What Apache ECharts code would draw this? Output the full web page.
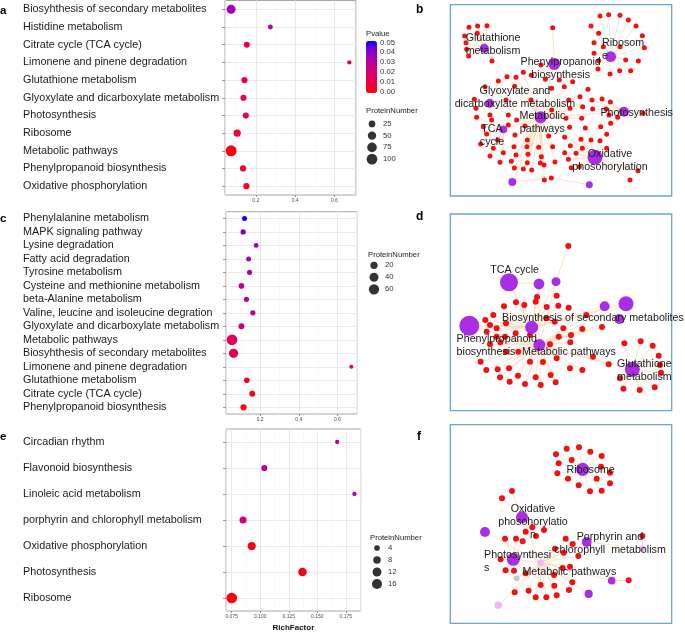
<!DOCTYPE html>
<html><head><meta charset="utf-8">
<script src="https://cdn.jsdelivr.net/npm/echarts@6/dist/echarts.min.js"></script>
<style>html,body{margin:0;padding:0;background:#fff}#c{width:685px;height:633px}</style>
</head><body><div id="c"></div>
<script>
const FONT = '"Liberation Sans", Arial, Helvetica, sans-serif';

// ---------------- Panel a ----------------
const catsA = ['Biosyhthesis of secondary metabolites','Histidine metabolism','Citrate cycle (TCA cycle)','Limonene and pinene degradation','Glutathione metabolism','Glyoxylate and dicarboxylate metabolism','Photosynthesis','Ribosome','Metabolic pathways','Phenylpropanoid biosynthesis','Oxidative phosphorylation'];
const richA = [0.074,0.274,0.154,0.676,0.142,0.137,0.149,0.105,0.074,0.135,0.152];
const numA  = [62,8,17,4,20,19,18,33,108,20,19];
const pA    = [0.035,0.029,0.012,0.012,0.011,0.011,0.010,0.009,0.002,0.006,0.004];
const legNumA = [25,50,75,100];

// ---------------- Panel c ----------------
const catsC = ['Phenylalanine metabolism','MAPK signaling pathway','Lysine degradation','Fatty acid degradation','Tyrosine metabolism','Cysteine and methionine metabolism','beta-Alanine metabolism','Valine, leucine and isoleucine degration','Glyoxylate and dicarboxylate metabolism','Metabolic pathways','Biosyhthesis of secondary metabolites','Limonene and pinene degradation','Glutathione metabolism','Citrate cycle (TCA cycle)','Phenylpropanoid biosynthesis'];
const richC = [0.119,0.112,0.179,0.140,0.145,0.103,0.129,0.162,0.103,0.054,0.062,0.672,0.131,0.159,0.114];
const numC  = [4,5,3,4,4,7,5,5,9,67,44,1,7,9,11];
const pC    = [0.049,0.041,0.036,0.032,0.031,0.027,0.026,0.024,0.022,0.014,0.012,0.011,0.006,0.004,0.001];
const legNumC = [20,40,60];

// ---------------- Panel e ----------------
const catsE = ['Circadian rhythm','Flavonoid biosynthesis','Linoleic acid metabolism','porphyrin and chlorophyll metabolism','Oxidative phosphorylation','Photosynthesis','Ribosome'];
const richE = [0.1674,0.1036,0.1825,0.0849,0.0925,0.1370,0.0750];
const numE  = [2,5,2,7,10,11,18];
const pE    = [0.029,0.027,0.029,0.021,0.003,0.002,0.001];
const legNumE = [4,8,12,16];

const pTicks = [0.00,0.01,0.02,0.03,0.04,0.05];

// ---------------- Network b (layout coordinates) ----------------
// hub: [label, x, y, weight, kind]
const hubsB = [
  ['Glutathione\nmetabolism',283,145,9,'hub'],
  ['Phenylpropanoid\nbiosynthesis',493,192,16,'hub'],
  ['Ribosom\ne',662,170,13,'hub'],
  ['Glyoxylate and\ndicarboxylate metabolism',299,310,9,'hub'],
  ['Metabolic\npathways',452,352,16,'hub'],
  ['TCA\ncycle',340,388,7,'hub'],
  ['Photosynthesis',702,335,11,'hub'],
  ['Oxidative\nphosohorylation',615,472,25,'hub'],
  ['',367,546,7,'hub'],
  ['',598,554,5.4,'hub']
];
const bGlut  = [[237,82],[263,78],[291,77],[224,108],[228,128],[230,148],[236,168],[306,183],[262,100]];
const bRibo  = [[630,48],[656,44],[690,46],[715,60],[738,78],[603,78],[626,100],[757,107],[612,128],[763,143],[612,160],[626,182],[707,180],[745,183],[624,207],[660,222],[689,212],[722,212],[690,140],[640,140]];
const bPhen  = [[488,83],[453,195],[466,238],[508,240],[424,226]];
const bPhot  = [[606,300],[636,297],[661,306],[648,327],[608,327],[657,345],[662,370],[759,340],[683,352],[650,403],[632,380]];
const bOxid  = [[539,382],[586,384],[573,418],[603,420],[630,422],[541,437],[577,445],[558,460],[524,458],[535,478],[544,503],[568,500],[744,512],[720,540],[650,445]];
const bTca   = [[260,352],[305,360],[280,380],[290,402],[323,420],[272,432],[310,445],[300,468],[340,458],[330,487],[355,375]];
const bGlyo  = [[253,298],[258,325],[300,345],[285,260],[325,243],[351,230],[348,300],[355,345]];
const bMeta  = [[378,232],[400,217],[374,259],[485,265],[523,260],[548,245],[570,290],[594,268],[423,300],[536,300],[485,330],[540,325],[578,320],[380,360],[528,355],[575,355],[405,378],[375,405],[412,420],[476,408],[524,412],[372,440],[411,440],[446,442],[488,440],[378,465],[414,463],[454,470],[364,484],[412,488],[451,489],[495,486],[373,504],[400,507],[425,510],[462,495],[463,540]];
const bBot   = [[484,534]];
const groupsB = [[0,bGlut],[2,bRibo],[1,bPhen],[6,bPhot],[7,bOxid],[5,bTca],[3,bGlyo],[4,bMeta],[8,bBot]];
const hubLinksB = [[4,0],[4,1],[4,3],[4,5],[4,6],[4,7],[4,8]];
const extraB = [[9,484,534]];

// ---------------- Network d ----------------
const hubsD = [
  ['TCA cycle',357,232,36,'hub'],
  ['',447,237,13,'hub'],
  ['',498,230,9,'hub'],
  ['',644,304,11,'hub'],
  ['',708,296,25,'hub'],
  ['',688,342,11,'hub'],
  ['Phenylpropanoid\nbiosynthesis',238,362,44,'hub'],
  ['Biosynthesis of secondary metabolites',425,367,19,'hub'],
  ['Metabolic pathways',448,420,16,'hub'],
  ['Glutathione\nmetabolism',727,493,25,'hub']
];
const dTop  = [[535,123]];
const dBio  = [[441,276],[500,272],[378,292],[403,300],[437,290],[342,304],[310,330],[470,306],[505,302],[536,308],[589,330],[286,345],[300,360],[348,355],[470,340],[494,350],[290,380],[320,370],[377,385],[420,390]];
const dMeta = [[520,370],[543,390],[577,372],[636,366],[320,395],[345,395],[480,418],[506,395],[541,412],[300,418],[331,412],[348,440],[385,440],[420,470],[459,471],[500,460],[540,490],[577,495],[609,455],[656,478],[272,470],[289,495],[323,493],[357,490],[384,512],[330,517],[359,530],[405,537],[437,517],[452,540],[482,510],[497,532]];
const dGlut = [[703,415],[752,409],[788,422],[806,452],[810,480],[813,503],[794,547],[749,555],[700,551],[690,520]];
const groupsD = [[2,dTop],[7,dBio],[8,dMeta],[9,dGlut]];
const hubLinksD = [[8,0],[8,1],[8,2],[8,3],[8,4],[8,5],[8,6],[8,7],[8,9],[7,0],[7,1],[7,2],[7,3],[7,4],[7,6],[0,1]];
const extraD = [];

// ---------------- Network f ----------------
const hubsF = [
  ['Ribosome',578,148,19,'hub'],
  ['Oxidative\nphosohorylatio\nn',396,292,16,'hub'],
  ['',285,336,11,'hub'],
  ['Porphyrin and\nchlorophyll  metabolism',590,366,11,'hub'],
  ['Photosynthesi\ns',370,418,19,'hub'],
  ['Metabolic pathways',452,428,5.4,'weak'],
  ['',757,386,4.4,'weak'],
  ['',325,556,6.4,'weak'],
  ['',380,475,3.6,'none'],
  ['',665,482,6.4,'hub'],
  ['',596,522,7.5,'hub']
];
const fRibo = [[498,103],[530,86],[567,82],[601,95],[635,108],[506,130],[545,120],[502,160],[534,176],[566,196],[600,214],[635,212],[660,190],[620,176],[660,158],[633,140]];
const fOxid = [[366,213],[336,235],[407,335],[427,322],[462,330],[438,348]];
const fPhot = [[345,356],[378,356],[398,364],[332,418],[347,451],[372,452],[407,460]];
const fMeta = [[527,356],[548,372],[495,386],[521,398],[565,408],[540,440],[492,465],[518,444],[452,495],[493,497],[547,487],[374,517],[416,512],[437,532],[469,532],[500,526],[537,510]];
const fPorp = [[757,348]];
const fRight = [[716,481]];
const groupsF = [[0,fRibo],[1,fOxid],[4,fPhot],[5,fMeta],[6,fPorp],[9,fRight]];
const hubLinksF = [[5,1],[5,2],[5,3],[5,4],[5,7],[5,8],[5,9],[5,10],[3,6]];
const extraF = [];

// ---------------- styling / layout config (not data) ----------------
const sizeA = n => 2.7 + 0.8 * Math.sqrt(n);
const sizeC = n => 3.2 + 0.916 * Math.sqrt(n);
const sizeE = n => 1.1 + 2.26 * Math.sqrt(n);
const hubSize = w => 3 * Math.sqrt(w);
const RED = '#f21010', PURPLE = '#a92de2', PINK = '#f4b6f0', GREY = '#c6c6c6';
const kindColor = {hub: PURPLE, weak: PINK, none: GREY};
const ORANGE_EDGE = '#f9d4b0', GREEN_EDGE = '#cfe6c6';
// label layout: [dx, dy, align] in px, per hub
const labB = [[8.7,-4.3,'center'],[6.3,4.7,'center'],[-8.7,-7.3,'left'],[25.3,-6,'center'],[1.7,5.7,'center'],[-11.3,6.7,'center'],[12.7,1.7,'center'],[15,3.7,'center']];
const labD = [[5.7,-12,'center'],null,null,null,null,null,[-12.7,20,'left'],[61.3,-9.7,'center'],[29.7,7,'center'],[-15.3,0.7,'left']];
const labF = [[8,0.7,'center'],[11,5,'center'],null,[23.3,1.7,'center'],[-29.3,2,'left'],[28.7,9,'center']];

function buildNet(hubs, groups, hubLinks, extra, labs, leafSize) {
  const nodes = [], links = [];
  const L = groups.reduce((s, g) => s + g[1].length, 0);
  const edgeColor = h => (hubs[h][0].indexOf('Ribosom') === 0 ? GREEN_EDGE : ORANGE_EDGE);
  groups.forEach(([h, pts]) => pts.forEach(p => {
    const i = nodes.length;
    nodes.push({name: 'n' + i, value: [p[0], p[1]], symbolSize: leafSize, itemStyle: {color: RED}});
    links.push({source: L + h, target: i, lineStyle: {color: edgeColor(h)}});
  }));
  hubs.forEach((hb, k) => {
    const node = {name: 'h' + k, value: [hb[1], hb[2]], symbolSize: hubSize(hb[3]), itemStyle: {color: kindColor[hb[4]]}};
    const lb = labs[k];
    if (hb[0] && lb) {
      node.label = {show: true, position: 'inside', offset: [lb[0], lb[1]], align: lb[2], verticalAlign: 'middle',
        formatter: hb[0], fontSize: 10.7, lineHeight: 13, color: '#1a1a1a', fontFamily: FONT};
    }
    nodes.push(node);
  });
  hubLinks.forEach(([a, b]) => links.push({source: L + a, target: L + b, lineStyle: {color: ORANGE_EDGE}}));
  extra.forEach(([h, x, y]) => {
    let best = 0, bd = Infinity;
    for (let i = 0; i < L; i++) { const v = nodes[i].value; const d = (v[0]-x)*(v[0]-x)+(v[1]-y)*(v[1]-y); if (d < bd) { bd = d; best = i; } }
    links.push({source: L + h, target: best, lineStyle: {color: ORANGE_EDGE}});
  });
  return {nodes, links};
}

const netB = buildNet(hubsB, groupsB, hubLinksB, extraB, labB, 5);
const netD = buildNet(hubsD, groupsD, hubLinksD, extraD, labD, 6);
const netF = buildNet(hubsF, groupsF, hubLinksF, extraF, labF, 6);

const SCALE_E = 40; // panel e axis runs in units of 0.025 RichFactor
const rows = (cats, rich, num, p, k) => cats.map((c, i) => [rich[i] * k, c, num[i], p[i]]);

const LABEL_X = 23;
const gridDefs = [
  {left: 225, top: 0.5, width: 131, height: 194.5},       // a
  {left: 226, top: 211.7, width: 131.3, height: 202.3},   // c
  {left: 226, top: 429, width: 134.7, height: 188},       // e
  {left: 368, top: 118, width: 8, height: 47},            // legend a
  {left: 370, top: 259.3, width: 8, height: 36},          // legend c
  {left: 373, top: 542, width: 8, height: 48},            // legend e
  {left: 450.3, top: 4.7, width: 221.4, height: 191.3},   // b
  {left: 450.3, top: 214, width: 221.4, height: 196.7},   // d
  {left: 450.3, top: 424.7, width: 221.4, height: 198.6}  // f
];
const grid = gridDefs.map((g, i) => Object.assign({}, g, i < 3 ? {show: true, borderColor: '#8f8f8f', borderWidth: 0.8, backgroundColor: '#fff'} :
  i >= 6 ? {show: true, borderColor: '#6ea3dc', borderWidth: 1.3} : {}));

const tickLbl = {fontSize: 5, color: '#4d4d4d', fontFamily: FONT, margin: 3, showMinLabel: false, showMaxLabel: false};
function mainX(gi, min, max, split, fmt, name) {
  return {type: 'value', gridIndex: gi, position: 'bottom', min, max, splitNumber: split, axisLine: {show: false},
    axisTick: {show: true, length: 2, lineStyle: {color: '#555', width: 0.6}},
    axisLabel: Object.assign({formatter: fmt}, tickLbl),
    splitLine: {show: true, lineStyle: {color: '#e4e4e4', width: 0.8}},
    name: name || '', nameLocation: 'middle', nameGap: 13,
    nameTextStyle: {fontSize: 8, fontWeight: 'bold', color: '#111', fontFamily: FONT}};
}
function minorX(gi, min, max, split) {
  return {type: 'value', gridIndex: gi, position: 'bottom', min, max, splitNumber: split, axisLine: {show: false}, axisTick: {show: false},
    axisLabel: {show: false}, splitLine: {show: true, lineStyle: {color: '#f2f2f2', width: 0.5}}};
}
function catY(gi, cats, left) {
  return {type: 'category', gridIndex: gi, data: cats, inverse: true, axisLine: {show: false},
    axisTick: {show: true, alignWithLabel: true, length: 3, lineStyle: {color: '#555', width: 0.6}},
    axisLabel: {interval: 0, align: 'left', margin: left - LABEL_X, fontSize: 10.8, color: '#1a1a1a', fontFamily: FONT},
    splitLine: {show: true, alignWithLabel: true, lineStyle: {color: '#e4e4e4', width: 0.8}}};
}
function legY(gi, vals) {
  return {type: 'category', gridIndex: gi, data: vals.map(String), inverse: true, position: 'right',
    axisLine: {show: false}, axisTick: {show: false}, splitLine: {show: false},
    axisLabel: {interval: 0, align: 'left', margin: 7, fontSize: 7.7, color: '#333', fontFamily: FONT}};
}
const hiddenX = gi => ({type: 'value', gridIndex: gi, min: 0, max: 1, show: false});
function netAxes(gi, x0, x1, y0, y1) {
  return [{type: 'value', gridIndex: gi, min: x0, max: x1, show: false},
          {type: 'value', gridIndex: gi, min: y0, max: y1, inverse: true, show: false}];
}
const nB = netAxes(6, 181, 845, 14, 588), nD = netAxes(7, 181, 845, 27, 617), nF = netAxes(8, 181, 845, 14, 610);

const xAxis = [
  minorX(0, 0.043, 0.71, 7),                                            // 0
  mainX(0, 0.043, 0.71, 3, v => String(+v.toFixed(1))),                 // 1
  minorX(1, 0.023, 0.703, 7),                                           // 2
  mainX(1, 0.023, 0.703, 3, v => String(+v.toFixed(1))),                // 3
  minorX(2, 0.070 * SCALE_E, 0.188 * SCALE_E, 10),                      // 4
  mainX(2, 0.070 * SCALE_E, 0.188 * SCALE_E, 5, v => (v / SCALE_E).toFixed(3), 'RichFactor'), // 5
  hiddenX(3), hiddenX(4), hiddenX(5),                                   // 6,7,8
  nB[0], nD[0], nF[0]                                                   // 9,10,11
];
const yAxis = [
  catY(0, catsA, 225), catY(1, catsC, 226), catY(2, catsE, 226),
  legY(3, legNumA), legY(4, legNumC), legY(5, legNumE),
  nB[1], nD[1], nF[1]
];

function bubble(xi, yi, data, sizeFn) {
  return {type: 'scatter', xAxisIndex: xi, yAxisIndex: yi, data, symbolSize: v => sizeFn(v[2]),
    itemStyle: {opacity: 1}, silent: true, z: 3};
}
function legendSeries(xi, yi, vals, sizeFn) {
  return {type: 'scatter', xAxisIndex: xi, yAxisIndex: yi, data: vals.map(v => [0.5, String(v), v]),
    symbolSize: v => sizeFn(v[2]), itemStyle: {color: '#000'}, silent: true};
}
function graphSeries(xi, yi, net) {
  return {type: 'graph', layout: 'none', coordinateSystem: 'cartesian2d', xAxisIndex: xi, yAxisIndex: yi,
    data: net.nodes, links: net.links, symbol: 'circle', silent: true, z: 2,
    lineStyle: {width: 0.7, opacity: 1, curveness: 0}, emphasis: {disabled: true}};
}

const series = [
  bubble(1, 0, rows(catsA, richA, numA, pA, 1), sizeA),
  bubble(3, 1, rows(catsC, richC, numC, pC, 1), sizeC),
  bubble(5, 2, rows(catsE, richE, numE, pE, SCALE_E), sizeE),
  legendSeries(6, 3, legNumA, sizeA),
  legendSeries(7, 4, legNumC, sizeC),
  legendSeries(8, 5, legNumE, sizeE),
  graphSeries(9, 6, netB),
  graphSeries(10, 7, netD),
  graphSeries(11, 8, netF)
];

const BAR_TOP = 41, BAR_H = 52;
const txt = (text, x, y, o) => ({type: 'text', x, y, silent: true, style: Object.assign({text, fill: '#1a1a1a', fontSize: 7.7, fontFamily: FONT, textAlign: 'left', textVerticalAlign: 'middle'}, o || {})});
const graphic = [
  txt('a', 0, 10.5, {fontSize: 11.5, fontWeight: 'bold', fill: '#000'}),
  txt('c', 0, 219, {fontSize: 11.5, fontWeight: 'bold', fill: '#000'}),
  txt('e', 0, 436.5, {fontSize: 11.5, fontWeight: 'bold', fill: '#000'}),
  txt('b', 416, 10, {fontSize: 12, fontWeight: 'bold', fill: '#000'}),
  txt('d', 416, 217, {fontSize: 12, fontWeight: 'bold', fill: '#000'}),
  txt('f', 417, 436.5, {fontSize: 12, fontWeight: 'bold', fill: '#000'}),
  txt('Pvalue', 366, 33.5),
  txt('ProteinNumber', 366, 111),
  txt('ProteinNumber', 368, 255),
  txt('ProteinNumber', 370, 537.7)
].concat(pTicks.map(p => txt(p.toFixed(2), 380, BAR_TOP + BAR_H - 1.2 - (p / 0.05) * (BAR_H - 2.6), {fill: '#333'})));

const option = {
  animation: false,
  backgroundColor: '#fff',
  grid, xAxis, yAxis, series, graphic,
  visualMap: [{
    type: 'continuous', seriesIndex: [0, 1, 2], dimension: 3, min: 0, max: 0.05,
    left: 366, top: BAR_TOP, itemWidth: 11, itemHeight: BAR_H, padding: 0,
    calculable: false, showLabel: false, text: null,
    inRange: {color: ['#FF0000','#F5002F','#E8004F','#D9006E','#C6008A','#B000A6','#9400C2','#6B00DD','#0000FF']},
    textStyle: {color: 'rgba(0,0,0,0)'}
  }]
};
const chart = echarts.init(document.getElementById('c'), null, {renderer: 'canvas'});
chart.setOption(option);
</script></body></html>
